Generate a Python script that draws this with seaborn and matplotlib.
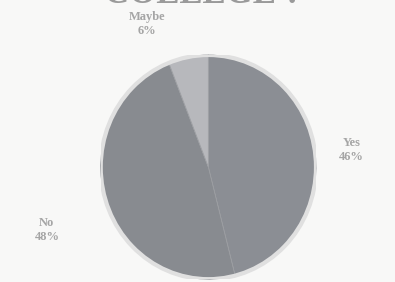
import matplotlib
matplotlib.use('Agg')
import matplotlib.pyplot as plt
from matplotlib.patches import Circle
import seaborn as sns

sns.set_style("white")

answers = ["Yes", "No", "Maybe"]
shares = [46, 48, 6]
colors = ["#8b8e94", "#888b90", "#b7b8bc"]

# label anchor points in pie units (radius = 1)
label_xy = {"Yes": (1.33, 0.15), "No": (-1.50, -0.56), "Maybe": (-0.57, 1.28)}

fig = plt.figure(figsize=(3.95, 2.82), dpi=100)
fig.patch.set_facecolor("#f8f8f7")
ax = fig.add_axes([0.255, 0.010, 0.545, 0.795])

wedges, _ = ax.pie(shares, colors=colors, startangle=90, counterclock=False,
                   wedgeprops=dict(edgecolor="#9c9ea2", linewidth=0.6))
# soft rim round the pie
ax.add_patch(Circle((0, 0), 1.0, fill=False, edgecolor="#e0e0e0", linewidth=3))
ax.set_aspect('auto')
ax.set_xlim(-1, 1)
ax.set_ylim(-1, 1)

for name, val in zip(answers, shares):
    x, y = label_xy[name]
    ax.text(x, y, "{}\n{}%".format(name, val), ha="center", va="center",
            fontsize=9, fontweight="bold", color="#a5a5a5",
            family="Liberation Serif", linespacing=1.2, clip_on=False)

fig.text(0.515, 0.988, "COLLEGE ?", ha="center", va="baseline", fontsize=25,
         fontweight="bold", color="#9a9a9a", family="Liberation Serif")

fig.savefig("out.png", dpi=100, facecolor=fig.get_facecolor())
